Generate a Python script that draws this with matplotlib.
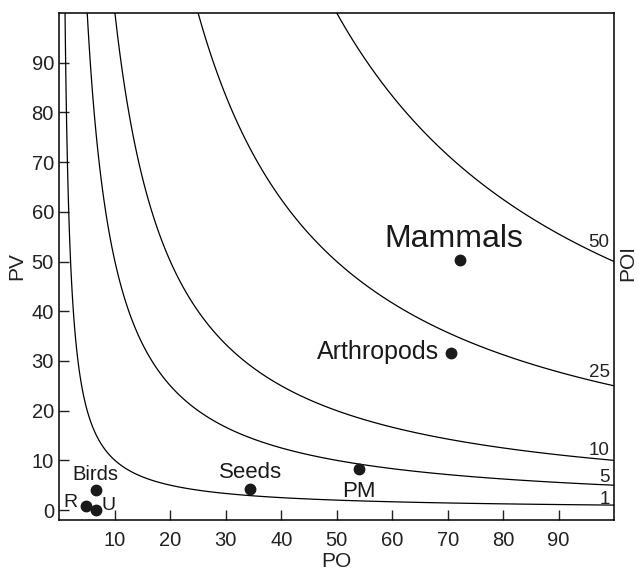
import numpy as np
import matplotlib
matplotlib.use("Agg")
import matplotlib.pyplot as plt

plt.rcParams['font.family'] = ['Liberation Sans', 'DejaVu Sans']

# iso-POI levels (POI = PO * PV / 100)
poi_levels = [1, 5, 10, 25, 50]
poi_label_pv = [1.3, 5.7, 11.0, 26.8, 52.9]

# groups
names = ["Mammals", "Arthropods", "PM", "Seeds", "Birds", "R", "U"]
po = [72.3, 70.6, 54.1, 34.4, 6.5, 4.8, 6.5]
pv = [50.3, 31.5, 8.2, 4.2, 4.0, 0.9, 0.1]

# label anchors and sizes
label_x = [71.2, 68.4, 53.9, 34.4, 6.4, 2.0, 8.9]
label_y = [52.9, 30.3, 2.7, 6.5, 6.0, 0.7, 0.1]
label_ha = ["center", "right", "center", "center", "center", "center", "center"]
label_size = [23, 18, 16, 16, 14.5, 14, 14]

fig = plt.figure(figsize=(6.39, 5.72), dpi=100)
ax = fig.add_axes([0.0931, 0.0909, 0.8678, 0.8864])

gx = np.linspace(0.05, 100, 2000)
gy = np.linspace(-2, 100, 1500)
GX, GY = np.meshgrid(gx, gy)
ax.contour(GX, GY, GX * GY / 100.0, levels=poi_levels, colors='black', linewidths=0.9)

for lev, yy in zip(poi_levels, poi_label_pv):
    ax.text(99.2, yy, str(lev), ha='right', va='baseline', fontsize=13.5, color='#222222')

ax.plot(po, pv, 'o', color='#1a1a1a', markersize=7.5, linestyle='none')
for n, x, y, ha, s in zip(names, label_x, label_y, label_ha, label_size):
    ax.text(x, y, n, ha=ha, va='baseline', fontsize=s, color='#1a1a1a')

ax.set_xlim(0, 100)
ax.set_ylim(-2, 100)
ax.set_xticks(range(10, 100, 10))
ax.set_yticks(range(0, 100, 10))
ax.tick_params(direction='in', length=7, width=1, labelsize=14.5, colors='#222222')
ax.tick_params(axis='x', pad=8)
ax.tick_params(axis='y', pad=4)
for sp in ax.spines.values():
    sp.set_linewidth(1.1)

ax.set_xlabel("PO", fontsize=15, labelpad=1, color='#222222')
ax.set_ylabel("PV", fontsize=15, labelpad=4, color='#222222')
fig.text(0.983, 0.54, "POI", rotation=90, ha='center', va='center', fontsize=15, color='#222222')

fig.savefig("out.png", dpi=100)
